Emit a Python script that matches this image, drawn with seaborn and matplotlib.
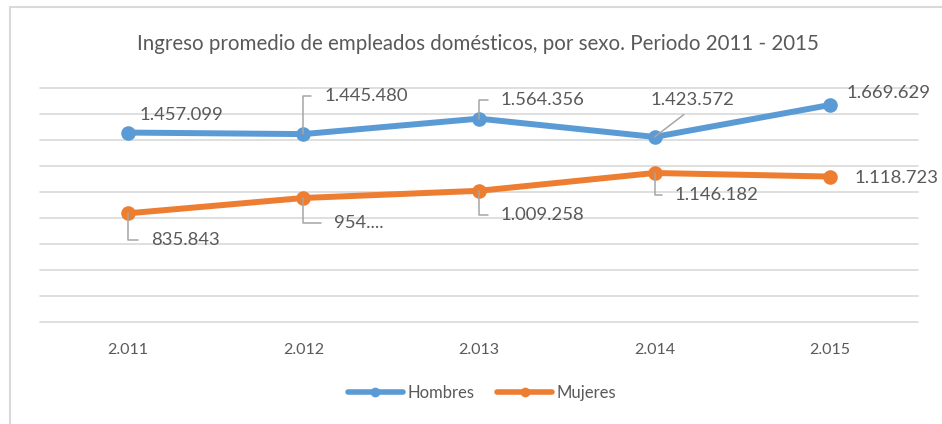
import matplotlib
matplotlib.use("Agg")
import matplotlib.pyplot as plt
import seaborn as sns
import pandas as pd
from matplotlib.patches import Rectangle

# data
years = [2011, 2012, 2013, 2014, 2015]
hombres = [1457099, 1445480, 1564356, 1423572, 1669629]
mujeres = [835843, 954000, 1009258, 1146182, 1118723]
series_names = ["Hombres", "Mujeres"]
title = "Ingreso promedio de empleados domésticos, por sexo. Periodo 2011 - 2015"


def fmt(v):
    return f"{v:,}".replace(",", ".")


hombres_labels = [fmt(v) for v in hombres]
mujeres_labels = [fmt(v) for v in mujeres]
mujeres_labels[1] = "954...."  # truncated label in the original

df = pd.DataFrame({
    "idx": list(range(len(years))) * 2,
    "valor": hombres + mujeres,
    "sexo": [series_names[0]] * len(years) + [series_names[1]] * len(years),
})

sns.set_style("white")
plt.rcParams["font.family"] = ["Lato", "DejaVu Sans"]
TXT = "#595959"
GRID = "#D9D9D9"
LEAD = "#A6A6A6"
palette = {"Hombres": "#5B9BD5", "Mujeres": "#ED7D31"}

fig = plt.figure(figsize=(9.42, 4.24), dpi=100)
ax = fig.add_axes([40 / 942, 1 - 322 / 424, 878 / 942, 234 / 424])

# chart frame (light grey border, like the Excel chart area)
fig.patches.append(Rectangle((10 / 942, -0.1), 1.2, 1 - 7 / 424 + 0.1,
                             transform=fig.transFigure, fill=False,
                             edgecolor=GRID, linewidth=1.5))

sns.lineplot(data=df, x="idx", y="valor", hue="sexo", palette=palette,
             marker="o", markersize=10.5, markeredgewidth=0, linewidth=4.3,
             ax=ax, zorder=3)

ax.set_xlim(-0.5, len(years) - 0.5)
ax.set_ylim(0, 1800000)
ax.set_yticks(range(0, 1800001, 200000))
ax.set_yticklabels([])
ax.set_xticks(range(len(years)))
ax.set_xticklabels([fmt(y) for y in years], fontsize=11.5, color=TXT)
ax.tick_params(axis="both", length=0)
ax.tick_params(axis="x", pad=15)
ax.set_xlabel("")
ax.set_ylabel("")
for s in ax.spines.values():
    s.set_visible(False)
ax.yaxis.grid(True, color=GRID, linewidth=1.2)
for gl in ax.get_ygridlines():
    gl.set_clip_on(False)

# data labels: (dx, dy) in pixels from the point to the label's left-middle,
# plus leader style
h_offsets = [(12, 18, None), (21, 38, "elbow"), (22, 19, "elbow"),
             (-4, 37, "diag"), (16, 12, None)]
m_offsets = [(23, -27, "elbow"), (31, -25, "elbow"), (22, -24, "elbow"),
             (20, -22, "elbow"), (24, -1, None)]


def add_labels(values, labels, offsets):
    for i, (v, lab, (dx, dy, kind)) in enumerate(zip(values, labels, offsets)):
        kw = dict(textcoords="offset pixels", xytext=(dx, dy), ha="left",
                  va="center", fontsize=13.3, color=TXT, zorder=5)
        if kind == "elbow":
            kw["arrowprops"] = dict(arrowstyle="-", color=LEAD, lw=1.1,
                                    connectionstyle="angle,angleA=0,angleB=90,rad=0",
                                    relpos=(0, 0.5), shrinkA=7, shrinkB=0)
        elif kind == "diag":
            kw["arrowprops"] = dict(arrowstyle="-", color=LEAD, lw=1.1,
                                    relpos=(0.5, 0), shrinkA=4, shrinkB=0)
        ax.annotate(lab, xy=(i, v), **kw)


add_labels(hombres, hombres_labels, h_offsets)
add_labels(mujeres, mujeres_labels, m_offsets)

fig.text(478 / 942, 1 - 44 / 424, title, ha="center", va="center",
         fontsize=14.8, color=TXT)

handles, labels = ax.get_legend_handles_labels()
ax.legend_.remove()
leg = fig.legend(handles, labels, loc="center",
                 bbox_to_anchor=(482 / 942, 1 - 393 / 424), ncol=2,
                 frameon=False, fontsize=12, handlelength=3.3,
                 handletextpad=0.25, columnspacing=1.4, labelcolor=TXT)
for ln in leg.get_lines():
    ln.set_markersize(7)
    ln.set_linewidth(4)

fig.savefig("out.png", dpi=100)
